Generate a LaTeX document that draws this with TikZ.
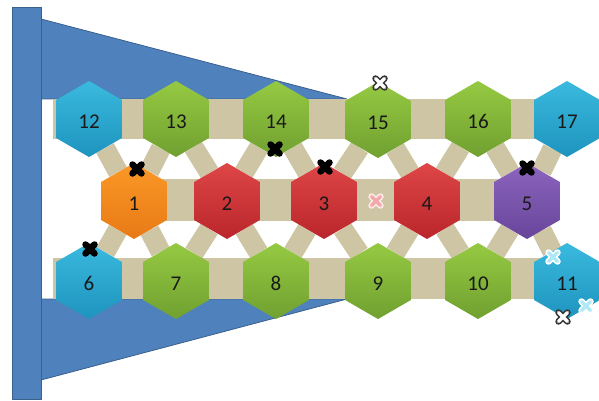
\documentclass[tikz,border=0pt]{standalone}
\usepackage{fontspec}
\setmainfont{Carlito}
\usetikzlibrary{shapes.geometric,backgrounds}
\definecolor{frameblue}{RGB}{79,129,189}
\definecolor{frameedge}{RGB}{58,96,142}
\definecolor{beige}{RGB}{205,197,163}
\definecolor{txt}{RGB}{25,25,25}
\definecolor{cyanT}{RGB}{58,185,222}
\definecolor{cyanB}{RGB}{30,148,190}
\definecolor{greenT}{RGB}{150,201,66}
\definecolor{greenB}{RGB}{112,160,48}
\definecolor{orangeT}{RGB}{250,152,38}
\definecolor{orangeB}{RGB}{232,122,22}
\definecolor{redT}{RGB}{222,70,70}
\definecolor{redB}{RGB}{186,38,44}
\definecolor{purpleT}{RGB}{140,100,190}
\definecolor{purpleB}{RGB}{104,70,154}
\definecolor{pinkF}{RGB}{240,168,170}
\definecolor{pinkO}{RGB}{255,232,232}
\definecolor{lcyanF}{RGB}{175,232,246}
\definecolor{darkO}{RGB}{55,55,55}
\tikzset{
  hexa/.style={regular polygon, regular polygon sides=6, shape border rotate=30,
    minimum size=76pt, inner sep=0pt, font=\fontsize{21}{24}\selectfont, text=txt,
    text height=19pt, text depth=0pt},
  cyanhex/.style={hexa, top color=cyanT, bottom color=cyanB},
  greenhex/.style={hexa, top color=greenT, bottom color=greenB},
  orangehex/.style={hexa, top color=orangeT, bottom color=orangeB},
  redhex/.style={hexa, top color=redT, bottom color=redB},
  purplehex/.style={hexa, top color=purpleT, bottom color=purpleB},
  band/.style={draw=beige, line width=#1},
  strut/.style={draw=beige, line width=20pt},
  frame/.style={fill=frameblue, draw=frameedge, line width=0.8pt, line join=round},
}
\newcommand{\xmk}[3]{%
  \draw[line cap=round, line width=6.5pt, #2] (#1) ++(-4.5,-4.5) -- ++(9,9) (#1) ++(-4.5,4.5) -- ++(9,-9);
  \draw[line cap=round, line width=3.2pt, #3] (#1) ++(-4.5,-4.5) -- ++(9,9) (#1) ++(-4.5,4.5) -- ++(9,-9);
}
\begin{document}
\begin{tikzpicture}[x=1pt,y=-1pt]
\useasboundingbox (0,0) rectangle (599,401);
% top row
\node[cyanhex]  (n12) at (89,119)  {12};
\node[greenhex] (n13) at (176,119) {13};
\node[greenhex] (n14) at (276,119) {14};
\node[greenhex] (n15) at (378,120) {15};
\node[greenhex] (n16) at (478,119) {16};
\node[cyanhex]  (n17) at (567,119) {17};
% middle row
\node[orangehex] (n1) at (134,201) {1};
\node[redhex]    (n2) at (227,201) {2};
\node[redhex]    (n3) at (324,201) {3};
\node[redhex]    (n4) at (427,201) {4};
\node[purplehex] (n5) at (527,201) {5};
% bottom row
\node[cyanhex]  (n6)  at (89,281)  {6};
\node[greenhex] (n7)  at (176,281) {7};
\node[greenhex] (n8)  at (276,281) {8};
\node[greenhex] (n9)  at (378,281) {9};
\node[greenhex] (n10) at (478,281) {10};
\node[cyanhex]  (n11) at (567,281) {11};
\begin{pgfonlayer}{background}
  \path[frame] (41,19) -- (347,99) -- (41,99) -- cycle;
  \path[frame] (41,299) -- (347,299) -- (41,380) -- cycle;
  \path[frame] (12,7) rectangle (41,399);
  \draw[band=40pt] ([xshift=-36pt]n12.center) -- ([xshift=40pt]n17.center);
  \draw[band=42pt] ([yshift=1pt]n1.center) -- ([yshift=1pt]n5.center);
  \draw[band=41pt] ([xshift=-36pt,yshift=2.5pt]n6.center) -- ([yshift=2.5pt]n11.center);
  \draw[strut] (n12) -- (n1) -- (n13) -- (n2) -- (n14) -- (n3) -- (n15) -- (n4) -- (n16) -- (n5) -- (n17);
  \draw[strut] (n6) -- (n1) -- (n7) -- (n2) -- (n8) -- (n3) -- (n9) -- (n4) -- (n10) -- (n5) -- (n11);
\end{pgfonlayer}
% markers
\xmk{137,169}{black}{black}
\xmk{90,249}{black}{black}
\xmk{275,149}{black}{black}
\xmk{325,167}{black}{black}
\xmk{527,168}{black}{black}
\xmk{376,201}{pinkO}{pinkF}
\xmk{380,83}{darkO}{white}
\xmk{563,317}{darkO}{white}
\xmk{553,257}{white}{lcyanF}
\xmk{586,306}{white}{lcyanF}
\end{tikzpicture}
\end{document}
